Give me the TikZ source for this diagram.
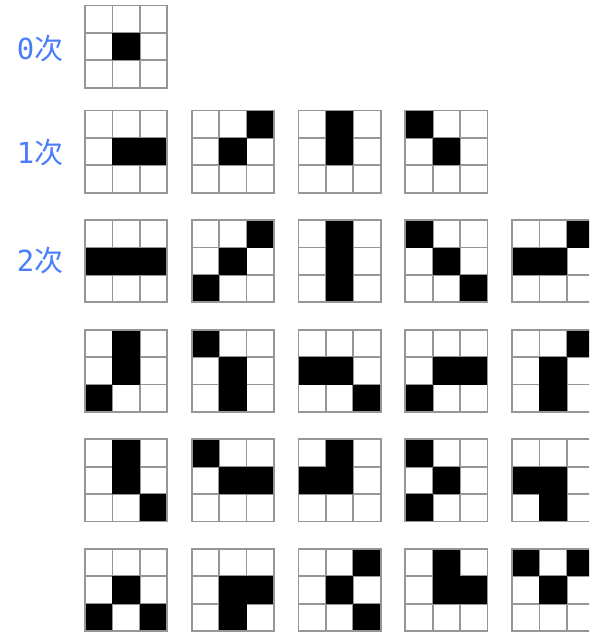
\documentclass[tikz,border=0pt]{standalone}
\usepackage{xcolor}
\usepackage{fontspec}
\usepackage{tikz}
\newfontfamily\cjk{Noto Sans CJK SC}
\newfontfamily\digitfont{DejaVu Sans Mono}
\definecolor{ordblue}{HTML}{4A7DFA}
\definecolor{gridline}{HTML}{969696}

\begin{document}
\begin{tikzpicture}[
  x=1pt, y=-1pt,
  order/.style={text=ordblue, inner sep=0pt, font=\fontsize{29}{32}\selectfont},
  cellon/.style={fill=black},
  cellgrid/.style={draw=gridline, line width=1.7pt}
]
  \useasboundingbox (0,0) rectangle (589,634);
  \clip (0,0) rectangle (589,634);

  \node[order] (lbl0) at (40,49)  {{\digitfont 0}{\cjk 次}};
  \node[order] (lbl1) at (40,153) {{\digitfont 1}{\cjk 次}};
  \node[order] (lbl2) at (40,261) {{\digitfont 2}{\cjk 次}};

  % column/row/black cells (0..8, row by row)
  \foreach \c/\r/\on in {0/0/{4},
      0/1/{4,5}, 1/1/{2,4}, 2/1/{1,4}, 3/1/{0,4},
      0/2/{3,4,5}, 1/2/{2,4,6}, 2/2/{1,4,7}, 3/2/{0,4,8}, 4/2/{2,3,4},
      0/3/{1,4,6}, 1/3/{0,4,7}, 2/3/{3,4,8}, 3/3/{4,5,6}, 4/3/{2,4,7},
      0/4/{1,4,8}, 1/4/{0,4,5}, 2/4/{1,3,4}, 3/4/{0,4,6}, 4/4/{3,4,7},
      0/5/{4,6,8}, 1/5/{4,5,7}, 2/5/{2,4,8}, 3/5/{1,4,5}, 4/5/{0,2,4}}
  {
    \pgfmathsetmacro\gy{ifthenelse(\r==0, 5.5, 110.5+109.6*(\r-1))}
    \begin{scope}[shift={(85+106.75*\c,\gy)}]
      \foreach \i in {1,2} {
        \draw[cellgrid] (27.4*\i,0) -- (27.4*\i,82.2);
        \draw[cellgrid] (0,27.4*\i) -- (82.2,27.4*\i);
      }
      \foreach \k in \on {
        \pgfmathsetmacro\cx{mod(\k,3)}
        \pgfmathsetmacro\cy{div(\k,3)}
        \fill[cellon] (27.4*\cx,27.4*\cy) rectangle ++(27.4,27.4);
      }
      \draw[cellgrid] (0,0) rectangle (82.2,82.2);
    \end{scope}
  }
\end{tikzpicture}
\end{document}
